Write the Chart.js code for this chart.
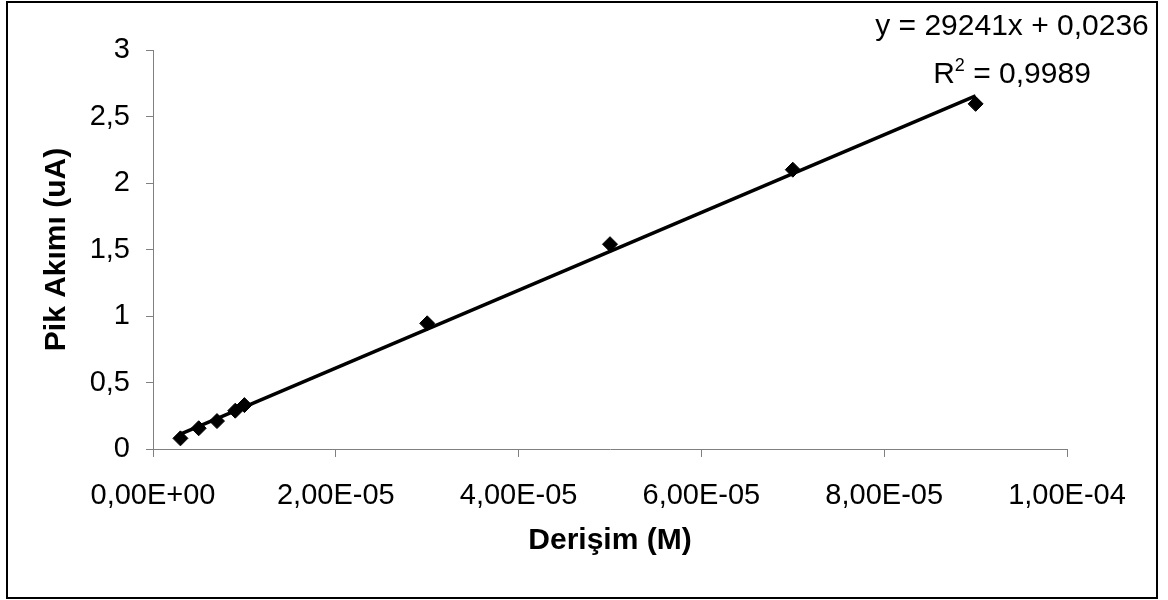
<!DOCTYPE html>
<html>
<head>
<meta charset="utf-8">
<title>Pik Akımı - Derişim</title>
<script src="https://cdn.jsdelivr.net/npm/chart.js@4/dist/chart.umd.min.js"></script>
<style>
  html, body { margin: 0; padding: 0; background: #ffffff; }
  #wrap { width: 1168px; height: 600px; }
</style>
</head>
<body>
<div id="wrap"><canvas id="c" width="1168" height="600"></canvas></div>
<script>
// Calibration measurements: concentration (M) and peak current (uA)
const concentrations = [3e-6, 5e-6, 7e-6, 9e-6, 1e-5, 3e-5, 5e-5, 7e-5, 9e-5];
const peakCurrents   = [0.08, 0.156, 0.21, 0.288, 0.33, 0.945, 1.54, 2.10, 2.595];

// Linear trendline reported for the series
const trendSlope = 29241;
const trendIntercept = 0.0236;
const trendR2 = 0.9989;

// Axis ticks
const xTickValues = [0, 2e-5, 4e-5, 6e-5, 8e-5, 1e-4];
const xTickLabels = ['0,00E+00', '2,00E-05', '4,00E-05', '6,00E-05', '8,00E-05', '1,00E-04'];
const yTickValues = [0, 0.5, 1, 1.5, 2, 2.5, 3];
const yTickLabels = ['0', '0,5', '1', '1,5', '2', '2,5', '3'];

const FONT = '"Liberation Sans", Arial, sans-serif';
const AXIS_GREY = '#808080';

const points = concentrations.map((x, i) => ({ x: x, y: peakCurrents[i] }));
const xFirst = concentrations[0];
const xLast = concentrations[concentrations.length - 1];
const trendPoints = [
  { x: xFirst, y: trendSlope * xFirst + trendIntercept },
  { x: xLast,  y: trendSlope * xLast + trendIntercept }
];

const fmt = v => String(v).replace('.', ',');

// Outer frame around the whole chart
const framePlugin = {
  id: 'frame',
  afterDraw(chart) {
    const ctx = chart.ctx;
    ctx.save();
    ctx.strokeStyle = '#000000';
    ctx.lineWidth = 2;
    ctx.strokeRect(7, 2, 1150, 596);
    ctx.restore();
  }
};

// Trendline equation and R² text
const equationPlugin = {
  id: 'equation',
  afterDraw(chart) {
    const ctx = chart.ctx;
    const cx = 1012;
    ctx.save();
    ctx.fillStyle = '#000000';
    ctx.textBaseline = 'alphabetic';
    ctx.font = '30px ' + FONT;
    ctx.textAlign = 'center';
    ctx.fillText('y = ' + trendSlope + 'x + ' + fmt(trendIntercept), cx, 35);

    const partR = 'R';
    const partSup = '2';
    const partRest = ' = ' + fmt(trendR2);
    ctx.font = '30px ' + FONT;
    const wR = ctx.measureText(partR).width;
    const wRest = ctx.measureText(partRest).width;
    ctx.font = '18px ' + FONT;
    const wSup = ctx.measureText(partSup).width;
    let x = cx - (wR + wSup + wRest) / 2;
    const base = 83;
    ctx.textAlign = 'left';
    ctx.font = '30px ' + FONT;
    ctx.fillText(partR, x, base);
    x += wR;
    ctx.font = '18px ' + FONT;
    ctx.fillText(partSup, x, base - 12);
    x += wSup;
    ctx.font = '30px ' + FONT;
    ctx.fillText(partRest, x, base);
    ctx.restore();
  }
};

new Chart(document.getElementById('c'), {
  type: 'scatter',
  data: {
    datasets: [
      {
        label: 'Pik Akımı',
        data: points,
        pointStyle: 'rectRot',
        pointRadius: 7.5,
        pointHoverRadius: 7.5,
        backgroundColor: '#000000',
        borderColor: '#000000',
        borderWidth: 1,
        showLine: false,
        order: 2
      },
      {
        label: 'Doğrusal',
        data: trendPoints,
        showLine: true,
        borderColor: '#000000',
        borderWidth: 3.5,
        pointRadius: 0,
        pointHoverRadius: 0,
        fill: false,
        order: 1
      }
    ]
  },
  options: {
    responsive: false,
    devicePixelRatio: 1,
    animation: false,
    events: [],
    layout: { padding: { left: 0, top: 50, right: 101, bottom: 0 } },
    plugins: {
      legend: { display: false },
      tooltip: { enabled: false },
      title: { display: false }
    },
    scales: {
      x: {
        type: 'linear',
        min: 0,
        max: 1e-4,
        afterBuildTicks(scale) { scale.ticks = xTickValues.map(v => ({ value: v })); },
        afterFit(scale) { scale.height = 151; },
        ticks: {
          autoSkip: false,
          maxRotation: 0,
          padding: 22,
          color: '#000000',
          font: { family: FONT, size: 29 },
          callback: (v, i) => xTickLabels[i]
        },
        grid: {
          drawOnChartArea: false,
          drawTicks: true,
          tickLength: 8,
          color: AXIS_GREY,
          lineWidth: 1
        },
        border: { display: true, color: AXIS_GREY, width: 1 },
        title: {
          display: true,
          text: 'Derişim (M)',
          color: '#000000',
          font: { family: FONT, size: 30, weight: 'bold' },
          padding: { top: 0, bottom: 41 }
        }
      },
      y: {
        type: 'linear',
        min: 0,
        max: 3,
        afterBuildTicks(scale) { scale.ticks = yTickValues.map(v => ({ value: v })); },
        afterFit(scale) { scale.width = 153; },
        ticks: {
          autoSkip: false,
          padding: 16,
          color: '#000000',
          font: { family: FONT, size: 29 },
          callback: (v, i) => yTickLabels[i]
        },
        grid: {
          drawOnChartArea: false,
          drawTicks: true,
          tickLength: 7,
          color: AXIS_GREY,
          lineWidth: 1
        },
        border: { display: true, color: AXIS_GREY, width: 1 },
        title: {
          display: true,
          text: 'Pik Akımı (uA)',
          color: '#000000',
          font: { family: FONT, size: 30, weight: 'bold' },
          padding: { top: 39, bottom: 0 }
        }
      }
    }
  },
  plugins: [framePlugin, equationPlugin]
});
</script>
</body>
</html>
